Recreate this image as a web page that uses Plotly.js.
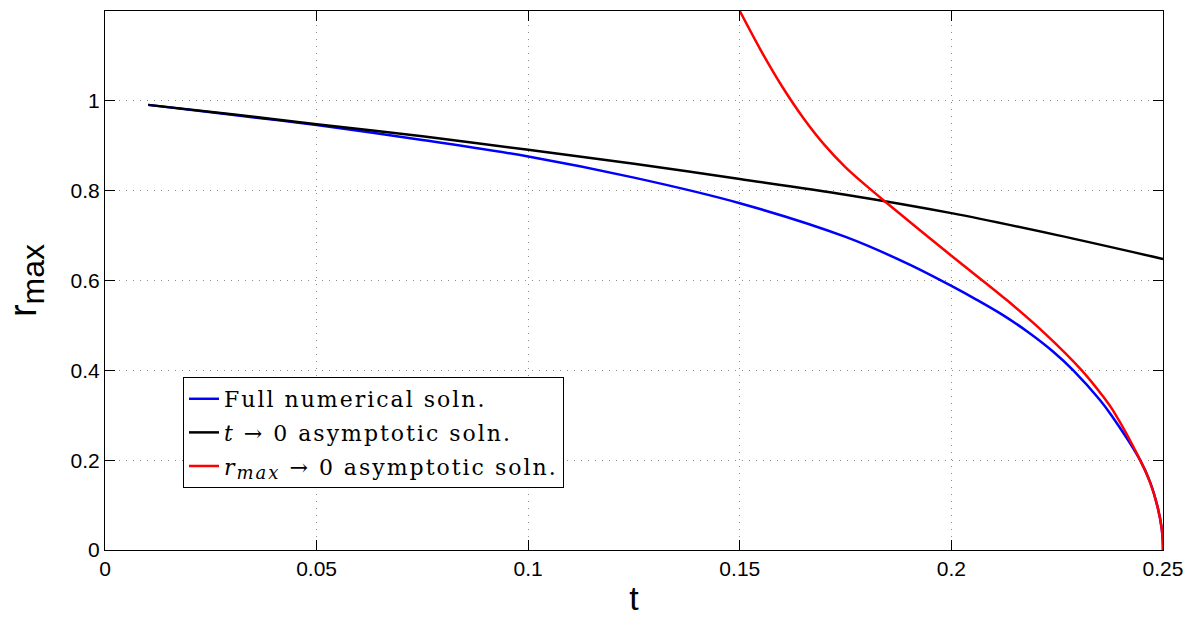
<!DOCTYPE html>
<html>
<head>
<meta charset="utf-8">
<script src="https://cdn.plot.ly/plotly-3.0.1.min.js"></script>
<style>
html,body{margin:0;padding:0;background:#fff;}
#chart{width:1196px;height:617px;}
.legendtext{letter-spacing:2px;}
</style>
</head>
<body>
<div id="chart"></div>
<script>
// Full numerical solution
const tFull = [0.0102, 0.03, 0.05, 0.075, 0.1, 0.125, 0.15, 0.175, 0.19, 0.2, 0.206, 0.212, 0.218, 0.224, 0.2288, 0.2351, 0.2378, 0.2446, 0.247, 0.2487, 0.24966, 0.24995, 0.25];
const rFull = [0.991, 0.969, 0.946, 0.913, 0.876, 0.829, 0.772, 0.697, 0.636, 0.588, 0.557, 0.524, 0.486, 0.442, 0.400, 0.334, 0.300, 0.200, 0.150, 0.0965, 0.05, 0.019, 0.0];
// t -> 0 asymptotic solution
const tSmall = [0.0102, 0.03, 0.05, 0.075, 0.1, 0.125, 0.15, 0.175, 0.2, 0.225, 0.25];
const rSmall = [0.991, 0.970, 0.948, 0.921, 0.891, 0.860, 0.826, 0.791, 0.750, 0.701, 0.648];
// r_max -> 0 asymptotic solution
const tRed = [0.15, 0.155, 0.16, 0.165, 0.17, 0.175, 0.18, 0.1843, 0.2, 0.213, 0.222, 0.2308, 0.2359, 0.2385, 0.2446, 0.24696, 0.2487, 0.24966, 0.24995, 0.25];
const rRed = [1.2, 1.112, 1.032, 0.962, 0.902, 0.852, 0.810, 0.776, 0.655, 0.557, 0.483, 0.400, 0.341, 0.306, 0.200, 0.150, 0.0965, 0.05, 0.019, 0.0];

const xTicks = [0, 0.05, 0.1, 0.15, 0.2, 0.25];
const xTickText = ['0', '0.05', '0.1', '0.15', '0.2', '0.25'];
const yTicks = [0, 0.2, 0.4, 0.6, 0.8, 1];
const yTickText = ['0', '0.2', '0.4', '0.6', '0.8', '1'];

const names = [
  'Full numerical soln.',
  '<i>t</i> \u2192 0 asymptotic soln.',
  '<i>r</i><sub><span style="font-size:18px"><i>max</i></span></sub> \u2192 0 asymptotic soln.'
];

const lineStyle = {width: 2.5, shape: 'spline', smoothing: 0.9};
const traces = [
  {x: tFull, y: rFull, name: names[0], legendgroup: 'a', mode: 'lines', line: Object.assign({color: '#0000ff'}, lineStyle)},
  {x: tSmall, y: rSmall, name: names[1], legendgroup: 'b', mode: 'lines', line: Object.assign({color: '#000000'}, lineStyle)},
  {x: tRed, y: rRed, name: names[2], legendgroup: 'c', mode: 'lines', line: Object.assign({color: '#ff0000'}, lineStyle)}
];

const axisCommon = {
  showline: true, linecolor: '#000', linewidth: 1, mirror: 'allticks',
  ticks: 'inside', ticklen: 10, tickcolor: '#000', tickwidth: 1,
  showgrid: true, gridcolor: '#8c8c8c', gridwidth: 1, griddash: '1px,6px',
  zeroline: false, tickfont: {family: 'Liberation Sans, Arial, sans-serif', size: 21, color: '#000'}
};

const layout = {
  width: 1196, height: 617,
  margin: {l: 105, r: 33, t: 11, b: 67},
  paper_bgcolor: '#fff', plot_bgcolor: '#fff',
  showlegend: true,
  legend: {
    x: 0.0737, y: 0.321, xanchor: 'left', yanchor: 'top',
    bgcolor: '#fff', bordercolor: '#000', borderwidth: 1,
    font: {family: 'DejaVu Serif, serif', size: 22, color: '#000'},
    traceorder: 'grouped', tracegroupgap: 2
  },
  xaxis: Object.assign({}, axisCommon, {
    range: [0, 0.25], tickvals: xTicks, ticktext: xTickText,
    title: {text: 't', font: {family: 'Liberation Sans, Arial, sans-serif', size: 34, color: '#000'}, standoff: 8}
  }),
  yaxis: Object.assign({}, axisCommon, {
    range: [0, 1.2], tickvals: yTicks, ticktext: yTickText,
    title: {text: 'r<sub><span style="font-size:32px">max</span></sub>', font: {family: 'Liberation Sans, Arial, sans-serif', size: 38, color: '#000'}, standoff: 22}
  })
};

Plotly.newPlot('chart', traces, layout, {staticPlot: true});
</script>
</body>
</html>
